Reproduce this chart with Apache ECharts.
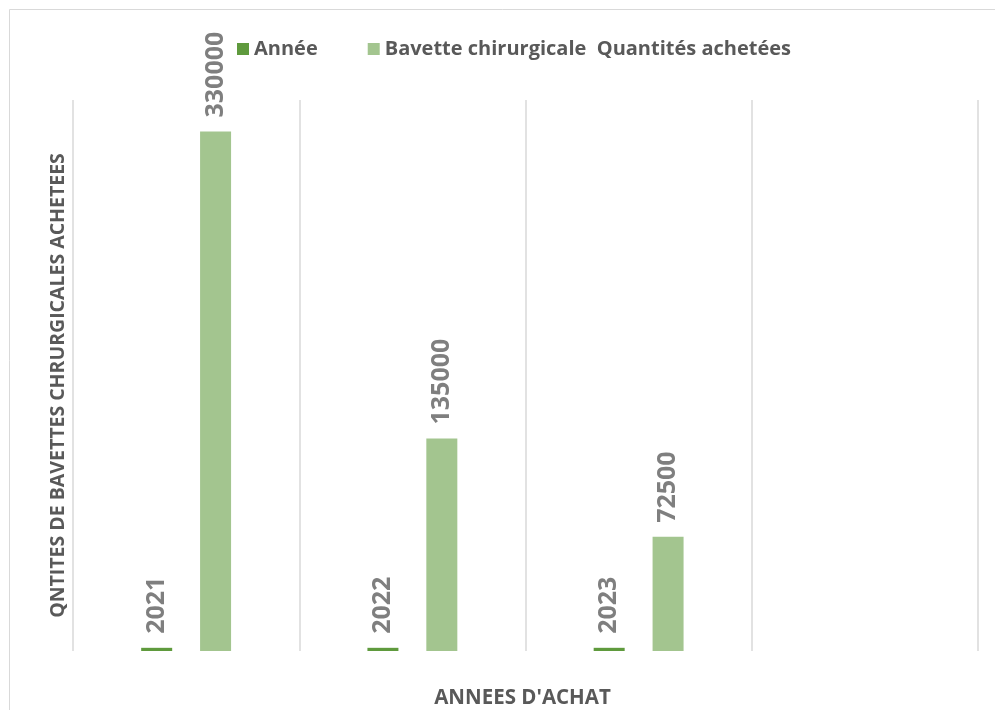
<!DOCTYPE html>
<html>
<head>
<meta charset="utf-8">
<script src="https://cdn.jsdelivr.net/npm/echarts@6/dist/echarts.min.js"></script>
<style>html,body{margin:0;padding:0;background:#fff;}#c{width:995px;height:710px;}</style>
</head>
<body>
<div id="c"></div>
<script>
var categories = ['2021', '2022', '2023', ''];
var anneeValues = [2021, 2022, 2023, null];
var quantiteValues = [330000, 135000, 72500, null];
var seriesNames = ['Année', 'Bavette chirurgicale  Quantités achetées'];
var xTitle = "ANNEES D'ACHAT";
var yTitle = 'QNTITES DE BAVETTES CHRURGICALES ACHETEES';

var FONT = '"Open Sans", "Liberation Sans", sans-serif';
var labelStyle = {
  show: true, position: 'top', rotate: 90, distance: 14,
  align: 'left', verticalAlign: 'middle',
  fontFamily: FONT, fontWeight: 'bold', fontSize: 25, color: '#7f7f7f'
};

var chart = echarts.init(document.getElementById('c'));
chart.setOption({
  animation: false,
  backgroundColor: '#fff',
  graphic: [{
    type: 'rect', left: 7, top: 7,
    shape: { width: 1000, height: 720 },
    style: { fill: 'none', stroke: '#d9d9d9', lineWidth: 1 }, silent: true
  }],
  legend: {
    top: 34, left: 232,
    itemWidth: 12, itemHeight: 12, itemGap: 50,
    icon: 'rect',
    textStyle: { fontFamily: FONT, fontWeight: 'bold', fontSize: 20, color: '#595959' },
    data: seriesNames
  },
  grid: { left: 73, right: 17, top: 100, bottom: 59, containLabel: false, outerBoundsMode: 'none' },
  xAxis: {
    type: 'category', data: categories,
    name: xTitle, nameLocation: 'middle', nameGap: 37,
    nameTextStyle: { fontFamily: FONT, fontWeight: 'bold', fontSize: 20.5, color: '#595959', padding: [0, 6, 0, 0] },
    axisLine: { show: false }, axisTick: { show: false }, axisLabel: { show: false },
    splitLine: { show: true, lineStyle: { color: '#d9d9d9', width: 1.5 } }
  },
  yAxis: {
    type: 'value', min: 0, max: 350000,
    name: yTitle, nameLocation: 'middle', nameGap: 5, nameRotate: 90,
    nameTextStyle: { fontFamily: FONT, fontWeight: 'bold', fontSize: 19.5, color: '#595959', padding: [0, 20, 0, 0] },
    axisLine: { show: false }, axisTick: { show: false }, axisLabel: { show: false },
    splitLine: { show: false }
  },
  series: [
    { name: seriesNames[0], type: 'bar', data: anneeValues, barWidth: 31, barGap: '90%',
      itemStyle: { color: '#5f9a3d' }, label: labelStyle },
    { name: seriesNames[1], type: 'bar', data: quantiteValues, barWidth: 31, barGap: '90%',
      itemStyle: { color: '#a3c58f' }, label: labelStyle }
  ]
});
</script>
</body>
</html>
